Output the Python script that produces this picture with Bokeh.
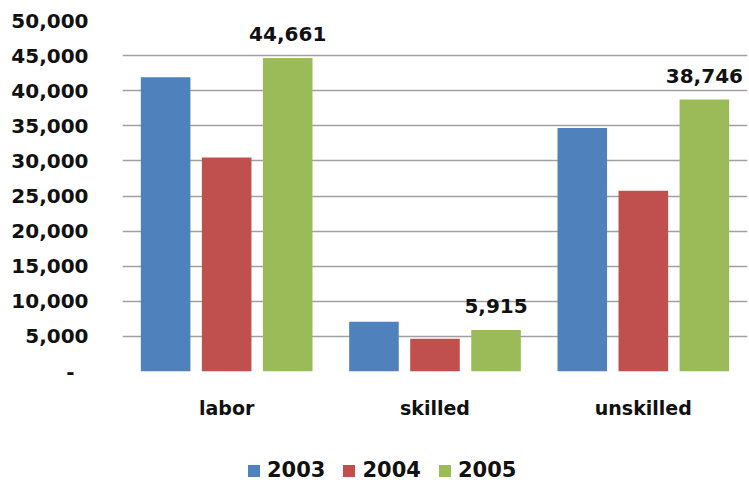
from bokeh.plotting import figure
from bokeh.layouts import column
from bokeh.models import (ColumnDataSource, FactorRange, FixedTicker, Range1d,
                          Legend, LegendItem)
from bokeh.transform import dodge
from bokeh.core.properties import value
from bokeh.embed import file_html
from bokeh.resources import INLINE

# --- data -----------------------------------------------------------------
categories = ["labor", "skilled", "unskilled"]
years = ["2003", "2004", "2005"]
v2003 = [41900, 7100, 34700]
v2004 = [30500, 4650, 25750]
v2005 = [44661, 5915, 38746]
tick_values = [0, 5000, 10000, 15000, 20000, 25000, 30000, 35000, 40000, 45000, 50000]
tick_labels = ["-\u00a0\u00a0", "5,000", "10,000", "15,000", "20,000", "25,000",
               "30,000", "35,000", "40,000", "45,000", "50,000"]

colors = ["#4F81BD", "#C0504D", "#9BBB59"]
FONT = "DejaVu Sans"
TEXT_COLOR = "#111111"

source = ColumnDataSource(dict(
    cat=categories,
    y2003=v2003,
    y2004=v2004,
    y2005=v2005,
    lbl2005=[f"{v:,}" for v in v2005],
))

# --- main chart -------------------------------------------------------------
p = figure(width=749, height=450, output_backend="svg", toolbar_location=None,
           x_range=FactorRange(factors=categories, range_padding=0),
           y_range=Range1d(0, 50000),
           min_border_left=122, min_border_right=2,
           min_border_top=20, min_border_bottom=79)
p.outline_line_color = None

offsets = [-0.293, 0.0, 0.293]
bar_w = 0.238
for col, off, c in zip(["y2003", "y2004", "y2005"], offsets, colors):
    p.vbar(x=dodge("cat", off, range=p.x_range), top=col, width=bar_w,
           source=source, fill_color=c, line_color=None)

# value labels over the 2005 bars
p.text(x=dodge("cat", offsets[2], range=p.x_range), y="y2005", text="lbl2005",
       source=source, text_align="center", text_baseline="alphabetic",
       y_offset=-24, text_font=value(FONT), text_font_style="bold",
       text_font_size="20px", text_color=TEXT_COLOR)

p.yaxis.ticker = FixedTicker(ticks=tick_values)
p.yaxis.major_label_overrides = {v: l for v, l in zip(tick_values, tick_labels)}
p.yaxis.axis_line_color = None
p.yaxis.major_tick_line_color = None
p.yaxis.minor_tick_line_color = None
p.yaxis.major_tick_out = 0
p.yaxis.major_tick_in = 0
p.yaxis.major_label_standoff = 34
p.yaxis.major_label_text_font = FONT
p.yaxis.major_label_text_font_style = "bold"
p.yaxis.major_label_text_font_size = "20px"
p.yaxis.major_label_text_color = TEXT_COLOR

p.xaxis.axis_line_color = None
p.xaxis.major_tick_line_color = None
p.xaxis.minor_tick_line_color = None
p.xaxis.major_tick_out = 0
p.xaxis.major_tick_in = 0
p.xaxis.major_label_standoff = 25
p.xaxis.major_label_text_font = FONT
p.xaxis.major_label_text_font_style = "bold"
p.xaxis.major_label_text_font_size = "19px"
p.xaxis.major_label_text_color = TEXT_COLOR

p.xgrid.grid_line_color = None
p.ygrid.grid_line_color = "#A0A0A0"
p.ygrid.grid_line_width = 1.5

# --- legend strip -----------------------------------------------------------
leg = figure(width=749, height=32, output_backend="svg", toolbar_location=None,
             x_range=Range1d(0, 1), y_range=Range1d(0, 1),
             x_axis_type=None, y_axis_type=None,
             min_border=0, min_border_left=0, min_border_right=0,
             min_border_top=0, min_border_bottom=0)
leg.outline_line_color = None
leg.xgrid.grid_line_color = None
leg.ygrid.grid_line_color = None
# zero-height bars: they only lend their fill colours to the legend swatches
swatches = [leg.vbar(x=[0], top=[0], bottom=[0], width=0, fill_color=c, line_color=None)
            for c in colors]

legend = Legend(items=[LegendItem(label=y, renderers=[r]) for y, r in zip(years, swatches)],
                orientation="horizontal", location=(124, 0),
                padding=0, margin=0, spacing=16, label_standoff=6,
                glyph_width=15, glyph_height=15, label_height=21,
                label_text_font=FONT, label_text_font_style="bold",
                label_text_font_size="21px", label_text_color=TEXT_COLOR,
                border_line_color=None, background_fill_alpha=0)
leg.add_layout(legend, "center")

layout = column(p, leg, spacing=0)
open("out.html", "w").write(file_html(layout, INLINE))
